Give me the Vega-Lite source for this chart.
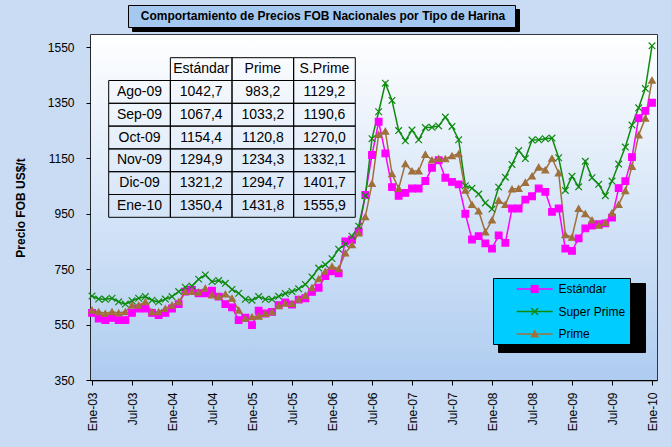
{
  "$schema": "https://vega.github.io/schema/vega-lite/v6.json",
  "width": 566,
  "height": 345,
  "autosize": "none",
  "padding": {"left": 91, "top": 35, "right": 14, "bottom": 67},
  "background": "#C9DCF3",
  "title": {"text": "Comportamiento de Precios FOB Nacionales por Tipo de Harina", "font": "Liberation Sans", "fontSize": 12, "fontWeight": "bold", "color": "#000000", "anchor": "middle", "dx": -51, "offset": 0, "dy": 18.5},
  "datasets": {
    "precios": [
      {"n": 0, "mes": "Ene-03", "Estándar": 592, "Super Prime": 653, "Prime": 602},
      {"n": 1, "mes": "Feb-03", "Estándar": 572, "Super Prime": 642, "Prime": 596},
      {"n": 2, "mes": "Mar-03", "Estándar": 566, "Super Prime": 641, "Prime": 590},
      {"n": 3, "mes": "Abr-03", "Estándar": 574, "Super Prime": 645, "Prime": 596},
      {"n": 4, "mes": "May-03", "Estándar": 566, "Super Prime": 632, "Prime": 592},
      {"n": 5, "mes": "Jun-03", "Estándar": 566, "Super Prime": 624, "Prime": 596},
      {"n": 6, "mes": "Jul-03", "Estándar": 592, "Super Prime": 636, "Prime": 620},
      {"n": 7, "mes": "Ago-03", "Estándar": 608, "Super Prime": 645, "Prime": 620},
      {"n": 8, "mes": "Sep-03", "Estándar": 608, "Super Prime": 651, "Prime": 632},
      {"n": 9, "mes": "Oct-03", "Estándar": 592, "Super Prime": 638, "Prime": 596},
      {"n": 10, "mes": "Nov-03", "Estándar": 584, "Super Prime": 632, "Prime": 596},
      {"n": 11, "mes": "Dic-03", "Estándar": 592, "Super Prime": 642, "Prime": 608},
      {"n": 12, "mes": "Ene-04", "Estándar": 608, "Super Prime": 651, "Prime": 620},
      {"n": 13, "mes": "Feb-04", "Estándar": 624, "Super Prime": 669, "Prime": 632},
      {"n": 14, "mes": "Mar-04", "Estándar": 669, "Super Prime": 685, "Prime": 669},
      {"n": 15, "mes": "Abr-04", "Estándar": 675, "Super Prime": 689, "Prime": 669},
      {"n": 16, "mes": "May-04", "Estándar": 663, "Super Prime": 714, "Prime": 667},
      {"n": 17, "mes": "Jun-04", "Estándar": 663, "Super Prime": 729, "Prime": 681},
      {"n": 18, "mes": "Jul-04", "Estándar": 672, "Super Prime": 705, "Prime": 657},
      {"n": 19, "mes": "Ago-04", "Estándar": 651, "Super Prime": 709, "Prime": 651},
      {"n": 20, "mes": "Sep-04", "Estándar": 624, "Super Prime": 699, "Prime": 660},
      {"n": 21, "mes": "Oct-04", "Estándar": 612, "Super Prime": 677, "Prime": 645},
      {"n": 22, "mes": "Nov-04", "Estándar": 566, "Super Prime": 663, "Prime": 602},
      {"n": 23, "mes": "Dic-04", "Estándar": 575, "Super Prime": 641, "Prime": 572},
      {"n": 24, "mes": "Ene-05", "Estándar": 548, "Super Prime": 638, "Prime": 578},
      {"n": 25, "mes": "Feb-05", "Estándar": 600, "Super Prime": 651, "Prime": 580},
      {"n": 26, "mes": "Mar-05", "Estándar": 590, "Super Prime": 641, "Prime": 590},
      {"n": 27, "mes": "Abr-05", "Estándar": 596, "Super Prime": 641, "Prime": 596},
      {"n": 28, "mes": "May-05", "Estándar": 620, "Super Prime": 652, "Prime": 618},
      {"n": 29, "mes": "Jun-05", "Estándar": 630, "Super Prime": 662, "Prime": 627},
      {"n": 30, "mes": "Jul-05", "Estándar": 622, "Super Prime": 669, "Prime": 626},
      {"n": 31, "mes": "Ago-05", "Estándar": 640, "Super Prime": 679, "Prime": 641},
      {"n": 32, "mes": "Sep-05", "Estándar": 645, "Super Prime": 695, "Prime": 655},
      {"n": 33, "mes": "Oct-05", "Estándar": 668, "Super Prime": 722, "Prime": 683},
      {"n": 34, "mes": "Nov-05", "Estándar": 683, "Super Prime": 754, "Prime": 715},
      {"n": 35, "mes": "Dic-05", "Estándar": 725, "Super Prime": 766, "Prime": 742},
      {"n": 36, "mes": "Ene-06", "Estándar": 742, "Super Prime": 788, "Prime": 760},
      {"n": 37, "mes": "Feb-06", "Estándar": 735, "Super Prime": 822, "Prime": 751},
      {"n": 38, "mes": "Mar-06", "Estándar": 850, "Super Prime": 840, "Prime": 808},
      {"n": 39, "mes": "Abr-06", "Estándar": 856, "Super Prime": 869, "Prime": 838},
      {"n": 40, "mes": "May-06", "Estándar": 886, "Super Prime": 905, "Prime": 880},
      {"n": 41, "mes": "Jun-06", "Estándar": 1018, "Super Prime": 1015, "Prime": 939},
      {"n": 42, "mes": "Jul-06", "Estándar": 1162, "Super Prime": 1221, "Prime": 1059},
      {"n": 43, "mes": "Ago-06", "Estándar": 1282, "Super Prime": 1318, "Prime": 1236},
      {"n": 44, "mes": "Sep-06", "Estándar": 1168, "Super Prime": 1421, "Prime": 1248},
      {"n": 45, "mes": "Oct-06", "Estándar": 1046, "Super Prime": 1359, "Prime": 1094},
      {"n": 46, "mes": "Nov-06", "Estándar": 1015, "Super Prime": 1250, "Prime": 1041},
      {"n": 47, "mes": "Dic-06", "Estándar": 1025, "Super Prime": 1213, "Prime": 1130},
      {"n": 48, "mes": "Ene-07", "Estándar": 1041, "Super Prime": 1252, "Prime": 1104},
      {"n": 49, "mes": "Feb-07", "Estándar": 1041, "Super Prime": 1217, "Prime": 1104},
      {"n": 50, "mes": "Mar-07", "Estándar": 1068, "Super Prime": 1261, "Prime": 1164},
      {"n": 51, "mes": "Abr-07", "Estándar": 1116, "Super Prime": 1262, "Prime": 1144},
      {"n": 52, "mes": "May-07", "Estándar": 1143, "Super Prime": 1267, "Prime": 1149},
      {"n": 53, "mes": "Jun-07", "Estándar": 1080, "Super Prime": 1299, "Prime": 1148},
      {"n": 54, "mes": "Jul-07", "Estándar": 1065, "Super Prime": 1265, "Prime": 1159},
      {"n": 55, "mes": "Ago-07", "Estándar": 1056, "Super Prime": 1217, "Prime": 1166},
      {"n": 56, "mes": "Sep-07", "Estándar": 950, "Super Prime": 1051, "Prime": 1035},
      {"n": 57, "mes": "Oct-07", "Estándar": 857, "Super Prime": 1042, "Prime": 983},
      {"n": 58, "mes": "Nov-07", "Estándar": 869, "Super Prime": 1021, "Prime": 960},
      {"n": 59, "mes": "Dic-07", "Estándar": 843, "Super Prime": 989, "Prime": 884},
      {"n": 60, "mes": "Ene-08", "Estándar": 824, "Super Prime": 967, "Prime": 927},
      {"n": 61, "mes": "Feb-08", "Estándar": 872, "Super Prime": 1046, "Prime": 998},
      {"n": 62, "mes": "Mar-08", "Estándar": 845, "Super Prime": 1082, "Prime": 983},
      {"n": 63, "mes": "Abr-08", "Estándar": 969, "Super Prime": 1128, "Prime": 1039},
      {"n": 64, "mes": "May-08", "Estándar": 969, "Super Prime": 1178, "Prime": 1041},
      {"n": 65, "mes": "Jun-08", "Estándar": 1001, "Super Prime": 1149, "Prime": 1063},
      {"n": 66, "mes": "Jul-08", "Estándar": 1013, "Super Prime": 1216, "Prime": 1086},
      {"n": 67, "mes": "Ago-08", "Estándar": 1041, "Super Prime": 1217, "Prime": 1118},
      {"n": 68, "mes": "Sep-08", "Estándar": 1029, "Super Prime": 1221, "Prime": 1108},
      {"n": 69, "mes": "Oct-08", "Estándar": 957, "Super Prime": 1223, "Prime": 1150},
      {"n": 70, "mes": "Nov-08", "Estándar": 969, "Super Prime": 1152, "Prime": 1097},
      {"n": 71, "mes": "Dic-08", "Estándar": 824, "Super Prime": 1034, "Prime": 874},
      {"n": 72, "mes": "Ene-09", "Estándar": 816, "Super Prime": 1085, "Prime": 865},
      {"n": 73, "mes": "Feb-09", "Estándar": 861, "Super Prime": 1047, "Prime": 969},
      {"n": 74, "mes": "Mar-09", "Estándar": 897, "Super Prime": 1139, "Prime": 950},
      {"n": 75, "mes": "Abr-09", "Estándar": 907, "Super Prime": 1080, "Prime": 927},
      {"n": 76, "mes": "May-09", "Estándar": 912, "Super Prime": 1056, "Prime": 908},
      {"n": 77, "mes": "Jun-09", "Estándar": 915, "Super Prime": 1015, "Prime": 918},
      {"n": 78, "mes": "Jul-09", "Estándar": 936, "Super Prime": 1068, "Prime": 953},
      {"n": 79, "mes": "Ago-09", "Estándar": 1042.7, "Super Prime": 1129.2, "Prime": 983.2},
      {"n": 80, "mes": "Sep-09", "Estándar": 1067.4, "Super Prime": 1190.6, "Prime": 1033.2},
      {"n": 81, "mes": "Oct-09", "Estándar": 1154.4, "Super Prime": 1270.0, "Prime": 1120.8},
      {"n": 82, "mes": "Nov-09", "Estándar": 1294.9, "Super Prime": 1332.1, "Prime": 1234.3},
      {"n": 83, "mes": "Dic-09", "Estándar": 1321.2, "Super Prime": 1401.7, "Prime": 1294.7},
      {"n": 84, "mes": "Ene-10", "Estándar": 1350.4, "Super Prime": 1555.9, "Prime": 1431.8}
    ],
    "tabla": [
      {"fila": "hdr", "col": "Estándar", "txt": "Estándar"},
      {"fila": "hdr", "col": "Prime", "txt": "Prime"},
      {"fila": "hdr", "col": "S.Prime", "txt": "S.Prime"},
      {"fila": "Ago-09", "col": "lab", "txt": "Ago-09"},
      {"fila": "Ago-09", "col": "Estándar", "txt": "1042,7"},
      {"fila": "Ago-09", "col": "Prime", "txt": "983,2"},
      {"fila": "Ago-09", "col": "S.Prime", "txt": "1129,2"},
      {"fila": "Sep-09", "col": "lab", "txt": "Sep-09"},
      {"fila": "Sep-09", "col": "Estándar", "txt": "1067,4"},
      {"fila": "Sep-09", "col": "Prime", "txt": "1033,2"},
      {"fila": "Sep-09", "col": "S.Prime", "txt": "1190,6"},
      {"fila": "Oct-09", "col": "lab", "txt": "Oct-09"},
      {"fila": "Oct-09", "col": "Estándar", "txt": "1154,4"},
      {"fila": "Oct-09", "col": "Prime", "txt": "1120,8"},
      {"fila": "Oct-09", "col": "S.Prime", "txt": "1270,0"},
      {"fila": "Nov-09", "col": "lab", "txt": "Nov-09"},
      {"fila": "Nov-09", "col": "Estándar", "txt": "1294,9"},
      {"fila": "Nov-09", "col": "Prime", "txt": "1234,3"},
      {"fila": "Nov-09", "col": "S.Prime", "txt": "1332,1"},
      {"fila": "Dic-09", "col": "lab", "txt": "Dic-09"},
      {"fila": "Dic-09", "col": "Estándar", "txt": "1321,2"},
      {"fila": "Dic-09", "col": "Prime", "txt": "1294,7"},
      {"fila": "Dic-09", "col": "S.Prime", "txt": "1401,7"},
      {"fila": "Ene-10", "col": "lab", "txt": "Ene-10"},
      {"fila": "Ene-10", "col": "Estándar", "txt": "1350,4"},
      {"fila": "Ene-10", "col": "Prime", "txt": "1431,8"},
      {"fila": "Ene-10", "col": "S.Prime", "txt": "1555,9"}
    ]
  },
  "layer": [
    {
      "data": {"values": [{}]},
      "mark": {"type": "rect", "color": {"gradient": "linear", "x1": 0, "y1": 0, "x2": 0, "y2": 1, "stops": [{"offset": 0, "color": "#FFFFFF"}, {"offset": 1, "color": "#AECCF0"}]}},
      "encoding": {}
    },
    {
      "data": {"name": "precios"},
      "transform": [{"fold": ["Estándar", "Super Prime", "Prime"], "as": ["serie", "precio"]}],
      "encoding": {
        "x": {"field": "n", "type": "quantitative", "scale": {"domain": [-0.15, 84.75], "nice": false, "zero": false},
          "axis": {"values": [0, 6, 12, 18, 24, 30, 36, 42, 48, 54, 60, 66, 72, 78, 84], "labelExpr": "(datum.value % 12 == 0 ? 'Ene-' : 'Jul-') + format(3 + floor(datum.value / 12), '02d')", "labelAngle": -90, "labelFont": "Liberation Sans", "labelFontSize": 12, "labelColor": "#000000", "labelPadding": 7, "labelFlush": false, "labelOverlap": false, "tickSize": 5, "tickColor": "#000000", "domainColor": "#000000", "domainWidth": 1.5, "grid": false, "title": null}},
        "y": {"field": "precio", "type": "quantitative", "scale": {"domain": [350, 1595], "nice": false, "zero": false},
          "axis": {"values": [350, 550, 750, 950, 1150, 1350, 1550], "format": "d", "title": "Precio FOB US$/t", "titleFont": "Liberation Sans", "titleFontSize": 12, "titleFontWeight": "bold", "titleColor": "#000000", "titlePadding": 20, "labelFont": "Liberation Sans", "labelFontSize": 12, "labelColor": "#000000", "labelPadding": 12, "tickSize": 5, "tickColor": "#000000", "domainColor": "#000000", "domainWidth": 1.5, "grid": true, "gridColor": "#000000", "gridDash": [4, 3], "gridWidth": 1}}
      },
      "layer": [
        {
          "mark": {"type": "line", "strokeWidth": 1.5},
          "encoding": {
            "color": {"field": "serie", "type": "nominal", "scale": {"domain": ["Estándar", "Super Prime", "Prime"], "range": ["#FF00FF", "#0E8A0E", "#A0703C"]}, "legend": null}
          }
        },
        {
          "mark": {"type": "point", "filled": true, "size": 44, "strokeWidth": 1.2, "opacity": 1},
          "encoding": {
            "color": {"field": "serie", "type": "nominal", "scale": {"domain": ["Estándar", "Super Prime", "Prime"], "range": ["#FF00FF", "#0E8A0E", "#A0703C"]}, "legend": null},
            "stroke": {"field": "serie", "type": "nominal", "scale": {"domain": ["Estándar", "Super Prime", "Prime"], "range": ["#FF00FF", "#0E8A0E", "#A0703C"]}, "legend": null},
            "shape": {"field": "serie", "type": "nominal", "scale": {"domain": ["Estándar", "Super Prime", "Prime"], "range": ["square", "M-1,-1L1,1M1,-1L-1,1", "triangle-up"]}, "legend": null}
          }
        }
      ]
    },
    {
      "data": {"name": "tabla"},
      "encoding": {
        "x": {"field": "col", "type": "nominal", "scale": {"type": "band", "domain": ["lab", "Estándar", "Prime", "S.Prime"], "range": [17.7, 264.3], "paddingInner": 0, "paddingOuter": 0}, "axis": null},
        "y": {"field": "fila", "type": "nominal", "scale": {"type": "band", "domain": ["hdr", "Ago-09", "Sep-09", "Oct-09", "Nov-09", "Dic-09", "Ene-10"], "range": [22.7, 182.3], "paddingInner": 0, "paddingOuter": 0}, "axis": null}
      },
      "layer": [
        {"mark": {"type": "rect", "fillOpacity": 0, "stroke": "#000000", "strokeWidth": 1}},
        {"mark": {"type": "text", "font": "Liberation Sans", "fontSize": 14, "color": "#000000", "align": "center", "baseline": "middle"}, "encoding": {"text": {"field": "txt", "type": "nominal"}}}
      ]
    },
    {
      "data": {"values": []},
      "mark": {"type": "point", "filled": true, "size": 196, "opacity": 1},
      "encoding": {
        "color": {"field": "sombra_titulo", "type": "nominal", "scale": {"domain": ["a"], "range": ["#000000"]},
          "legend": {"title": null, "orient": "none", "legendX": 41, "legendY": -26, "fillColor": "#000000", "strokeColor": "#000000", "padding": 4, "symbolOffset": 0, "labelOffset": 365, "labelExpr": "''", "symbolSize": 196, "symbolOpacity": 0, "symbolStrokeWidth": 0}}
      }
    },
    {
      "data": {"values": []},
      "mark": {"type": "point", "filled": true, "size": 196, "opacity": 1},
      "encoding": {
        "color": {"field": "caja_titulo", "type": "nominal", "scale": {"domain": ["a"], "range": ["#000000"]},
          "legend": {"title": null, "orient": "none", "legendX": 37, "legendY": -30, "fillColor": "#A4C8F0", "strokeColor": "#000000", "padding": 4, "symbolOffset": 0, "labelOffset": 365, "labelExpr": "''", "symbolSize": 196, "symbolOpacity": 0, "symbolStrokeWidth": 0}}
      }
    },
    {
      "data": {"values": []},
      "mark": {"type": "point", "filled": true, "size": 196, "opacity": 1},
      "encoding": {
        "color": {"field": "sombra_leyenda", "type": "nominal", "scale": {"domain": ["a", "b", "c"], "range": ["#000000", "#000000", "#000000"]},
          "legend": {"title": null, "orient": "none", "legendX": 407, "legendY": 248, "fillColor": "#000000", "strokeColor": "#000000", "padding": 4, "rowPadding": 9.5, "symbolOffset": 0, "labelOffset": 125, "labelExpr": "''", "symbolSize": 196, "symbolOpacity": 0, "symbolStrokeWidth": 0}}
      }
    },
    {
      "data": {"values": []},
      "mark": {"type": "point", "filled": true, "size": 196, "opacity": 1},
      "encoding": {
        "color": {"field": "serie", "type": "nominal", "scale": {"domain": ["Estándar", "Super Prime", "Prime"], "range": ["#FF00FF", "#0E8A0E", "#A0703C"]},
          "legend": {"title": null, "orient": "none", "legendX": 402, "legendY": 243, "fillColor": "#00CCFF", "strokeColor": "#000000", "padding": 4, "symbolOffset": 30.7, "labelOffset": 16.7, "rowPadding": 9.5, "labelFont": "Liberation Sans", "labelFontSize": 12, "labelColor": "#000000", "labelExpr": "datum.label + '\u00a0\u00a0\u00a0'", "symbolSize": 196, "symbolStrokeWidth": 0}},
        "shape": {"field": "serie", "type": "nominal", "scale": {"domain": ["Estándar", "Super Prime", "Prime"], "range": [
          "M-2.571,-0.114L2.571,-0.114L2.571,0.114L-2.571,0.114Z M-0.571,-0.571L0.571,-0.571L0.571,0.571L-0.571,0.571Z",
          "M-2.571,-0.114L2.571,-0.114L2.571,0.114L-2.571,0.114Z M-0.571,-0.421L-0.421,-0.571L0.571,0.421L0.421,0.571Z M0.571,-0.421L-0.421,0.571L-0.571,0.421L0.421,-0.571Z",
          "M-2.571,-0.114L2.571,-0.114L2.571,0.114L-2.571,0.114Z M0,-0.643L0.643,0.5L-0.643,0.5Z"]},
          "legend": {"title": null, "orient": "none", "legendX": 402, "legendY": 243, "fillColor": "#00CCFF", "strokeColor": "#000000", "padding": 4, "symbolOffset": 30.7, "labelOffset": 16.7, "rowPadding": 9.5, "labelFont": "Liberation Sans", "labelFontSize": 12, "labelColor": "#000000", "labelExpr": "datum.label + '\u00a0\u00a0\u00a0'", "symbolSize": 196, "symbolStrokeWidth": 0}}
      }
    }
  ],
  "resolve": {"scale": {"x": "independent", "y": "independent", "color": "independent", "shape": "independent", "stroke": "independent"}},
  "config": {
    "view": {"stroke": "#000000", "strokeWidth": 1.5},
    "font": "Liberation Sans"
  }
}
